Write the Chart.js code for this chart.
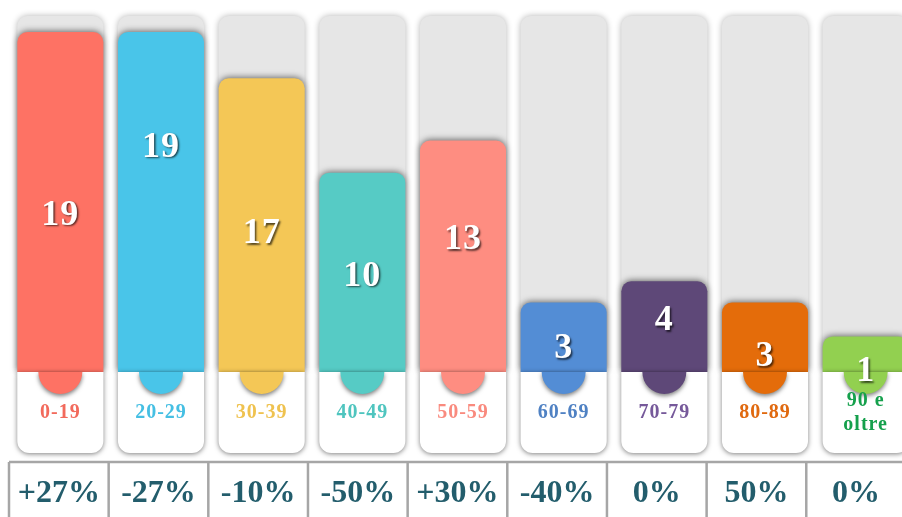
<!DOCTYPE html>
<html>
<head>
<meta charset="utf-8">
<script src="https://cdn.jsdelivr.net/npm/chart.js@4.4.0/dist/chart.umd.min.js"></script>
<style>
  html, body { margin: 0; padding: 0; background: #fff; overflow: hidden; }
  #wrap { width: 920px; height: 517px; position: relative; }
</style>
</head>
<body>
<div id="wrap"><canvas id="grafico"></canvas></div>
<script>
// dati
const categorie = ['0-19', '20-29', '30-39', '40-49', '50-59', '60-69', '70-79', '80-89', '90 e\noltre'];
const conteggi = [19, 19, 17, 10, 13, 3, 4, 3, 1];
const livelliBarre = [19.1, 19.1, 16.5, 11.2, 13.0, 3.9, 5.1, 3.9, 2.0];
const variazioni = ['+27%', '-27%', '-10%', '-50%', '+30%', '-40%', '0%', '50%', '0%'];
const scalaMax = 20;

const coloriBarre = ['#fe7264', '#49c5e9', '#f4c756', '#56cbc5', '#fe8d81', '#538dd5', '#5e4878', '#e46c0a', '#92d050'];
const coloriTesto = ['#f26a5c', '#45bfe3', '#efc24f', '#4fc5bf', '#f98a7e', '#4f81c3', '#76599a', '#e0690f', '#15a04c'];
// posizione verticale dell'etichetta dentro la barra (0 = cima, 1 = base)
const posEtichette = [0.54, 0.34, 0.53, 0.52, 0.43, 0.67, 0.44, 0.78, 1.0];

const SERIF = '"Liberation Serif", "Times New Roman", serif';

const ombre = {
  id: 'ombre',
  beforeDatasetDraw(chart, args) {
    const ctx = chart.ctx;
    ctx.save();
    if (args.index === 0) {
      ctx.shadowColor = 'rgba(0,0,0,0.30)';
      ctx.shadowBlur = 6;
    } else {
      ctx.shadowColor = 'rgba(0,0,0,0.55)';
      ctx.shadowBlur = 6;
      ctx.shadowOffsetY = -1;
    }
  },
  afterDatasetDraw(chart) {
    chart.ctx.restore();
  }
};

const schede = {
  id: 'schede',
  afterDatasetsDraw(chart) {
    const ctx = chart.ctx;
    const meta = chart.getDatasetMeta(1);
    const base = chart.scales.y.getPixelForValue(0);
    const altScheda = 81;

    meta.data.forEach((bar, i) => {
      const w = bar.width, x0 = bar.x - w / 2;

      // scheda bianca
      ctx.save();
      ctx.shadowColor = 'rgba(0,0,0,0.5)';
      ctx.shadowBlur = 5;
      ctx.shadowOffsetY = 1;
      ctx.fillStyle = '#fff';
      ctx.beginPath();
      ctx.roundRect(x0, base, w, altScheda, [0, 0, 12, 12]);
      ctx.fill();
      ctx.restore();

      // linguetta
      ctx.save();
      ctx.shadowColor = 'rgba(0,0,0,0.5)';
      ctx.shadowBlur = 4;
      ctx.shadowOffsetY = 2;
      ctx.fillStyle = coloriBarre[i];
      ctx.beginPath();
      ctx.arc(bar.x, base, 22, 0, Math.PI);
      ctx.closePath();
      ctx.fill();
      ctx.restore();

      // categoria
      ctx.save();
      ctx.fillStyle = coloriTesto[i];
      ctx.font = 'bold 20px ' + SERIF;
      ctx.letterSpacing = '1px';
      ctx.textAlign = 'center';
      ctx.textBaseline = 'middle';
      const righe = categorie[i].split('\n');
      const y0 = base + 41 - (righe.length - 1) * 12;
      righe.forEach((r, k) => ctx.fillText(r, bar.x, y0 + k * 24));
      ctx.restore();

      // valore
      ctx.save();
      ctx.fillStyle = '#fff';
      ctx.font = 'bold 36px ' + SERIF;
      ctx.letterSpacing = '1px';
      ctx.textAlign = 'center';
      ctx.textBaseline = 'middle';
      ctx.shadowColor = 'rgba(0,0,0,0.65)';
      ctx.shadowBlur = 2;
      ctx.shadowOffsetX = 1.5;
      ctx.shadowOffsetY = 1.5;
      ctx.fillText(String(conteggi[i]), bar.x, bar.y + (base - bar.y) * posEtichette[i]);
      ctx.restore();
    });

    // tabella delle variazioni
    const area = chart.chartArea;
    const passo = (area.right - area.left) / categorie.length * 0.99;
    const topTab = base + 90;
    ctx.save();
    ctx.strokeStyle = '#a6a6a6';
    ctx.lineWidth = 2.5;
    ctx.beginPath();
    ctx.moveTo(area.left - 1, topTab);
    ctx.lineTo(chart.width, topTab);
    for (let i = 0; i < categorie.length; i++) {
      const x = area.left - 1 + i * passo;
      ctx.moveTo(x, topTab);
      ctx.lineTo(x, chart.height);
    }
    ctx.stroke();
    ctx.fillStyle = '#235d6c';
    ctx.font = 'bold 32px ' + SERIF;
    ctx.textAlign = 'center';
    ctx.textBaseline = 'middle';
    variazioni.forEach((v, i) => {
      ctx.fillText(v, area.left - 1 + (i + 0.5) * passo, topTab + 32);
    });
    ctx.restore();
  }
};

new Chart(document.getElementById('grafico'), {
  type: 'bar',
  data: {
    labels: categorie,
    datasets: [
      {
        data: categorie.map(() => scalaMax),
        backgroundColor: '#e6e6e6',
        borderRadius: 10,
        order: 2
      },
      {
        data: livelliBarre,
        backgroundColor: coloriBarre,
        borderRadius: 10,
        order: 1
      }
    ]
  },
  options: {
    responsive: true,
    maintainAspectRatio: false,
    animation: false,
    layout: { padding: { left: 10, right: 4, top: 16, bottom: 145 } },
    datasets: { bar: { grouped: false, categoryPercentage: 1, barPercentage: 0.855, clip: false } },
    plugins: { legend: { display: false }, tooltip: { enabled: false } },
    scales: {
      x: { display: false },
      y: { display: false, min: 0, max: scalaMax }
    }
  },
  plugins: [ombre, schede]
});
</script>
</body>
</html>
